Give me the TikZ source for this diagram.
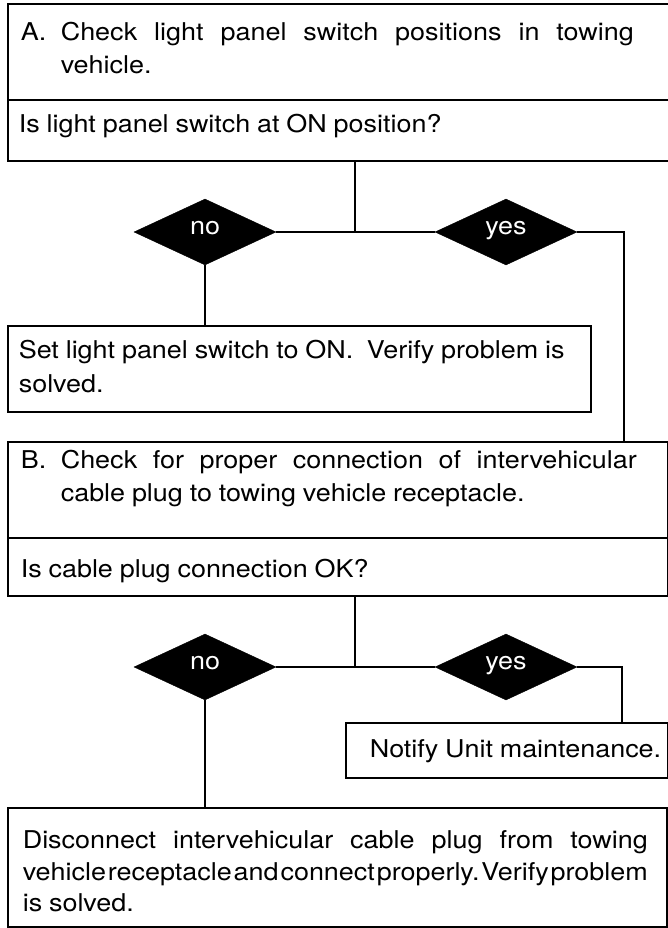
\documentclass[tikz,border=0pt]{standalone}
\usepackage{fontspec}
\setmainfont{TeX Gyre Heros}[FakeStretch=1.1]
\usetikzlibrary{shapes.geometric}
\newcommand\fsz{\fontsize{24.5}{33}\selectfont}
% #1 left gap, #2 text width, #3 box height, #4 first baseline below top, #5 text
\newcommand\tbx[5]{\hspace*{#1}\parbox[c][#3][t]{#2}{\vspace*{\dimexpr#4-18pt\relax}%
  \rightskip=0pt\parfillskip=0pt plus 1fil\hyphenpenalty=10000\frenchspacing
  \spaceskip=0.278em plus 0.6em minus 0.265em\noindent\rule{0pt}{18pt}#5}}
\tikzset{
  box/.style={draw, line width=1.6pt, rectangle, anchor=north west, inner sep=0pt, align=left, font=\fsz},
  dia/.style={diamond, fill=black, draw=black, inner sep=0pt, minimum width=142pt, minimum height=66pt,
    text=white, font=\fsz, text height=1ex, text depth=0pt},
  conn/.style={line width=1.6pt},
}
\begin{document}
\begin{tikzpicture}[x=1pt,y=-1pt]
\clip (0,0) rectangle (668,928);
% Section A
\node[box, text width=662pt, minimum height=96pt] (bA) at (7,3)
  {\tbx{13pt}{613pt}{96pt}{36pt}{\hangindent=40pt\hangafter=1\makebox[40pt][l]{A.}Check light panel switch positions in towing\linebreak vehicle.}};
\node[box, text width=662pt, minimum height=61pt] (qA) at (7,99)
  {\tbx{11pt}{640pt}{61pt}{32pt}{Is light panel switch at ON position?}};
\node[dia] (noA) at (205,232) {no};
\node[dia] (yesA) at (506,232) {yes};
\node[box, text width=583pt, minimum height=86pt] (setA) at (7,325)
  {\tbx{11pt}{568pt}{86pt}{32pt}{\baselineskip=34pt Set light panel switch to ON.\ \ Verify problem is\\solved.}};
% Section B
\node[box, text width=660pt, minimum height=96pt] (bB) at (7,441)
  {\tbx{13pt}{616pt}{96pt}{26pt}{\hangindent=40pt\hangafter=1\makebox[40pt][l]{B.}Check for proper connection of intervehicular\linebreak cable plug to towing vehicle receptacle.}};
\node[box, text width=660pt, minimum height=58pt] (qB) at (7,537)
  {\tbx{13pt}{640pt}{58pt}{39pt}{Is cable plug connection OK?}};
\node[dia] (noB) at (205,667) {no};
\node[dia] (yesB) at (506,667) {yes};
\node[box, text width=322pt, minimum height=55pt] (notB) at (345,722)
  {\tbx{24pt}{296pt}{55pt}{35pt}{Notify Unit maintenance.}};
\node[box, text width=659pt, minimum height=119pt] (disB) at (7,807)
  {\tbx{15pt}{625pt}{119pt}{41pt}{\baselineskip=31.5pt Disconnect intervehicular cable plug from towing\linebreak vehicle receptacle and connect properly. Verify problem\linebreak is solved.}};
% connectors
\coordinate (jA) at (355,232);
\coordinate (cA) at (624,441);
\coordinate (jB) at (355,667);
\coordinate (cB) at (622,722);
\draw[conn] (jA |- qA.south) -- (jA);
\draw[conn] (noA.east) -- (yesA.west);
\draw[conn] (yesA.east) -| (cA);
\draw[conn] (noA.south) -- (noA.south |- setA.north);
\draw[conn] (jB |- qB.south) -- (jB);
\draw[conn] (noB.east) -- (yesB.west);
\draw[conn] (yesB.east) -| (cB);
\draw[conn] (noB.south) -- (noB.south |- disB.north);
\end{tikzpicture}
\end{document}
